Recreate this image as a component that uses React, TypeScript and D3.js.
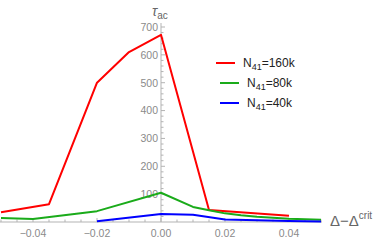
import React, {useEffect, useRef} from "react";
import * as d3 from "d3";

// Δ-Δcrit values and autocorrelation times for each system size
const redX = [-0.05, -0.035, -0.02, -0.01, 0, 0.015, 0.04];
const redY = [35, 64, 500, 610, 672, 43, 22];
const greenX = [-0.05, -0.04, -0.02, 0, 0.01, 0.015, 0.02, 0.025, 0.03, 0.04, 0.05];
const greenY = [14, 11, 39, 105, 54, 42, 31, 24, 19, 12, 8];
const blueX = [-0.02, 0, 0.01, 0.02, 0.03, 0.04, 0.05];
const blueY = [3, 29, 26, 9, 6, 4, 2];

const seriesNames = ["160k", "80k", "40k"];
const seriesColors = ["#ff0000", "#1aab1a", "#0000ff"];
const xTicks = [-0.04, -0.02, 0, 0.02, 0.04];
const yTicks = [100, 200, 300, 400, 500, 600, 700];

const W = 374;
const H = 241;

export default function App() {
    const svgRef = useRef<SVGSVGElement | null>(null);

    useEffect(() => {
        if (!svgRef.current) return;
        const svg = d3.select(svgRef.current);
        svg.selectAll("*").remove();

        const x = d3.scaleLinear().domain([-0.05, 0.05]).range([1, 321]);
        const y = d3.scaleLinear().domain([0, 700]).range([222, 27]);
        const axisColor = "#b3b3b3";
        const labelColor = "#8a8a8a";
        const font = "'Liberation Sans', Arial, sans-serif";

        // x axis
        const xa = svg.append("g");
        xa.append("line")
            .attr("x1", 0).attr("x2", 322)
            .attr("y1", y(0)).attr("y2", y(0))
            .attr("stroke", axisColor);
        d3.range(-0.05, 0.0501, 0.005).forEach((t) => {
            const major = xTicks.some((m) => Math.abs(m - t) < 1e-9);
            xa.append("line")
                .attr("x1", x(t)).attr("x2", x(t))
                .attr("y1", y(0)).attr("y2", y(0) - (major ? 4 : 2.5))
                .attr("stroke", axisColor);
        });
        xa.selectAll("text")
            .data(xTicks)
            .enter()
            .append("text")
            .attr("x", (d) => x(d))
            .attr("y", 237)
            .attr("text-anchor", "middle")
            .attr("fill", labelColor)
            .attr("font-family", font)
            .attr("font-size", 10.5)
            .text((d) => d3.format(".2f")(d).replace("-", "\u2212"));

        // y axis
        const ya = svg.append("g");
        ya.append("line")
            .attr("x1", x(0)).attr("x2", x(0))
            .attr("y1", y(0)).attr("y2", 23)
            .attr("stroke", axisColor);
        d3.range(20, 720, 20).forEach((t) => {
            const major = t % 100 === 0;
            ya.append("line")
                .attr("x1", x(0)).attr("x2", x(0) + (major ? 4 : 2.5))
                .attr("y1", y(t)).attr("y2", y(t))
                .attr("stroke", axisColor);
        });
        ya.selectAll("text")
            .data(yTicks)
            .enter()
            .append("text")
            .attr("x", x(0) - 3)
            .attr("y", (d) => y(d) + 3.8)
            .attr("text-anchor", "end")
            .attr("fill", labelColor)
            .attr("font-family", font)
            .attr("font-size", 10.5)
            .text((d) => String(d));

        // axis labels
        const tl = svg.append("text")
            .attr("x", 152)
            .attr("y", 16)
            .attr("fill", "#666")
            .attr("font-family", font);
        tl.append("tspan").attr("font-size", 14).attr("font-style", "italic").text("τ");
        tl.append("tspan").attr("font-size", 10).attr("dy", 3).text("ac");

        const xl = svg.append("text")
            .attr("x", 330)
            .attr("y", 226)
            .attr("fill", "#666")
            .attr("font-family", font);
        xl.append("tspan").attr("font-size", 15).text("Δ−Δ");
        xl.append("tspan").attr("font-size", 10).attr("dy", -7).text("crit");

        // data lines
        const line = d3.line<[number, number]>()
            .x((d) => x(d[0]))
            .y((d) => y(d[1]));
        const all = [
            d3.zip(redX, redY) as [number, number][],
            d3.zip(greenX, greenY) as [number, number][],
            d3.zip(blueX, blueY) as [number, number][],
        ];
        all.forEach((pts, i) => {
            svg.append("path")
                .attr("d", line(pts))
                .attr("fill", "none")
                .attr("stroke", seriesColors[i])
                .attr("stroke-width", 2)
                .attr("stroke-linejoin", "round");
        });

        // legend
        const legX = [216, 220, 220];
        const legY = [63, 83, 103];
        seriesNames.forEach((n, i) => {
            svg.append("line")
                .attr("x1", legX[i]).attr("x2", legX[i] + 19)
                .attr("y1", legY[i]).attr("y2", legY[i])
                .attr("stroke", seriesColors[i])
                .attr("stroke-width", 2);
            const t = svg.append("text")
                .attr("x", legX[i] + 27)
                .attr("y", legY[i] + 4)
                .attr("fill", "#222")
                .attr("font-family", font)
                .attr("font-size", 12);
            t.append("tspan").text("N");
            t.append("tspan").attr("font-size", 9).attr("dy", 3).text("41");
            t.append("tspan").attr("dy", -3).text("=" + n);
        });
    }, []);

    return (
        <svg
            ref={svgRef}
            width={W}
            height={H}
            style={{position: "absolute", left: 0, top: 0, background: "#fff"}}
        />
    );
}
